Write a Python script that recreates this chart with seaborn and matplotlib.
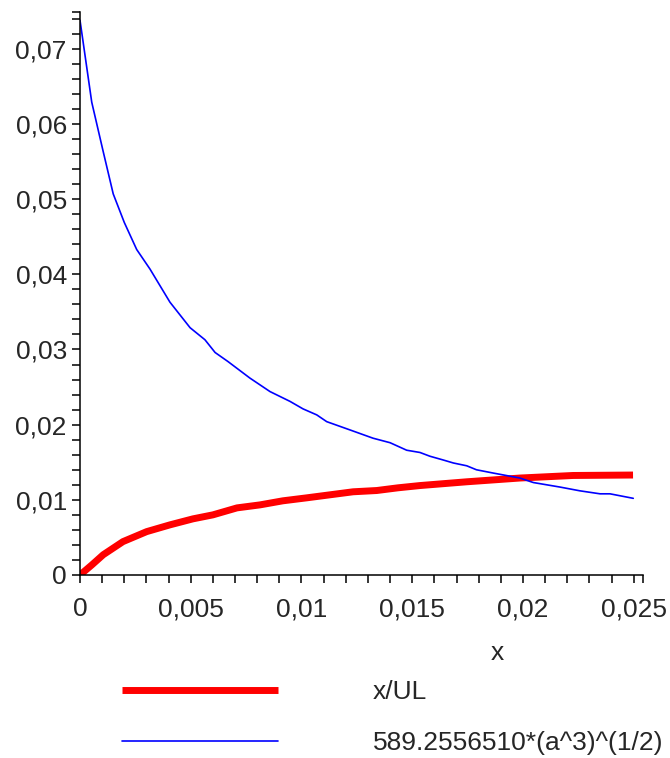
import numpy as np
import matplotlib
matplotlib.use("Agg")
import matplotlib.pyplot as plt
from matplotlib.ticker import FixedLocator
import seaborn as sns

# values
red_x = [0, 0.00053, 0.00105, 0.00194, 0.00301, 0.00406, 0.0051, 0.006, 0.00709,
         0.00813, 0.00916, 0.01025, 0.01129, 0.01233, 0.0134, 0.01436, 0.01535,
         0.01746, 0.01986, 0.02226, 0.02497]
red_y = [0, 0.00133, 0.0027, 0.00444, 0.00577, 0.00667, 0.00747, 0.008, 0.00893,
         0.00933, 0.00987, 0.01027, 0.01067, 0.01107, 0.01124, 0.0116, 0.0119,
         0.0124, 0.0129, 0.01324, 0.0133]

blue_x = [0, 0.00053, 0.00105, 0.0015, 0.002, 0.00256, 0.00316, 0.00406, 0.00497,
          0.00564, 0.0061, 0.00668, 0.00767, 0.00858, 0.00948, 0.01007, 0.01069,
          0.01114, 0.01219, 0.01323, 0.014, 0.01475, 0.01535, 0.0158, 0.0164,
          0.01686, 0.01746, 0.0179, 0.01866, 0.01986, 0.02047, 0.02167, 0.02257,
          0.02348, 0.02393, 0.02498]
blue_y = [0.0738, 0.0629, 0.0563, 0.0507, 0.0469, 0.0433, 0.0407, 0.0363, 0.0329,
          0.0313, 0.0296, 0.0284, 0.0262, 0.0244, 0.0231, 0.0221, 0.0213, 0.0204,
          0.0193, 0.0182, 0.0176, 0.0166, 0.0163, 0.0158, 0.0153, 0.0149, 0.01453,
          0.014, 0.01356, 0.0129, 0.0123, 0.0117, 0.0112, 0.0108, 0.0108, 0.0102]

xticks = [0, 0.005, 0.01, 0.015, 0.02, 0.025]
xtick_labels = ["0", "0,005", "0,01", "0,015", "0,02", "0,025"]
yticks = [0, 0.01, 0.02, 0.03, 0.04, 0.05, 0.06, 0.07]
ytick_labels = ["0", "0,01", "0,02", "0,03", "0,04", "0,05", "0,06", "0,07"]

red_label = "x/UL"
blue_label = "589.2556510*(a^3)^(1/2)"

sns.set_style("white")
plt.rcParams["font.family"] = ["Liberation Sans", "DejaVu Sans"]

fs = 19
xmax, ymax = 0.02542, 0.0749

fig = plt.figure(figsize=(6.7, 7.58), dpi=100)
ax = fig.add_axes([80 / 670, 1 - 575 / 758, 563 / 670, 563 / 758])

sns.lineplot(x=red_x, y=red_y, ax=ax, color="#ff0000", linewidth=5,
             label=red_label, solid_capstyle="butt")
sns.lineplot(x=blue_x, y=blue_y, ax=ax, color="#0000ff", linewidth=1.2,
             label=blue_label)

ax.set_xlim(0, xmax)
ax.set_ylim(0, ymax)

for side in ["top", "right"]:
    ax.spines[side].set_visible(False)
for side in ["left", "bottom"]:
    ax.spines[side].set_linewidth(1.1)
    ax.spines[side].set_color("black")

ax.set_xticks(xticks)
ax.set_xticklabels(xtick_labels)
ax.set_yticks(yticks)
ax.set_yticklabels(ytick_labels)
ax.xaxis.set_minor_locator(FixedLocator(list(np.arange(0.001, 0.0251, 0.001)) + [xmax]))
ax.yaxis.set_minor_locator(FixedLocator(list(np.arange(0.002, 0.0741, 0.002)) + [ymax]))

ax.tick_params(axis="both", which="both", direction="out", length=6,
               width=1.1, color="black", labelsize=fs, bottom=True, left=True)
ax.tick_params(axis="x", which="major", pad=10)
ax.tick_params(axis="y", which="major", pad=3.5)

ax.set_xlabel("x", fontsize=fs)
ax.xaxis.set_label_coords(0.741, -0.139)
ax.xaxis.label.set_va("center")

ax.legend(loc="upper left", bbox_to_anchor=(122 / 670, 1 - 680 / 758),
          bbox_transform=fig.transFigure, frameon=False, fontsize=fs,
          handlelength=5.9, handletextpad=3.6, labelspacing=1.02,
          borderpad=0, borderaxespad=0)

fig.savefig("out.png", dpi=100)
